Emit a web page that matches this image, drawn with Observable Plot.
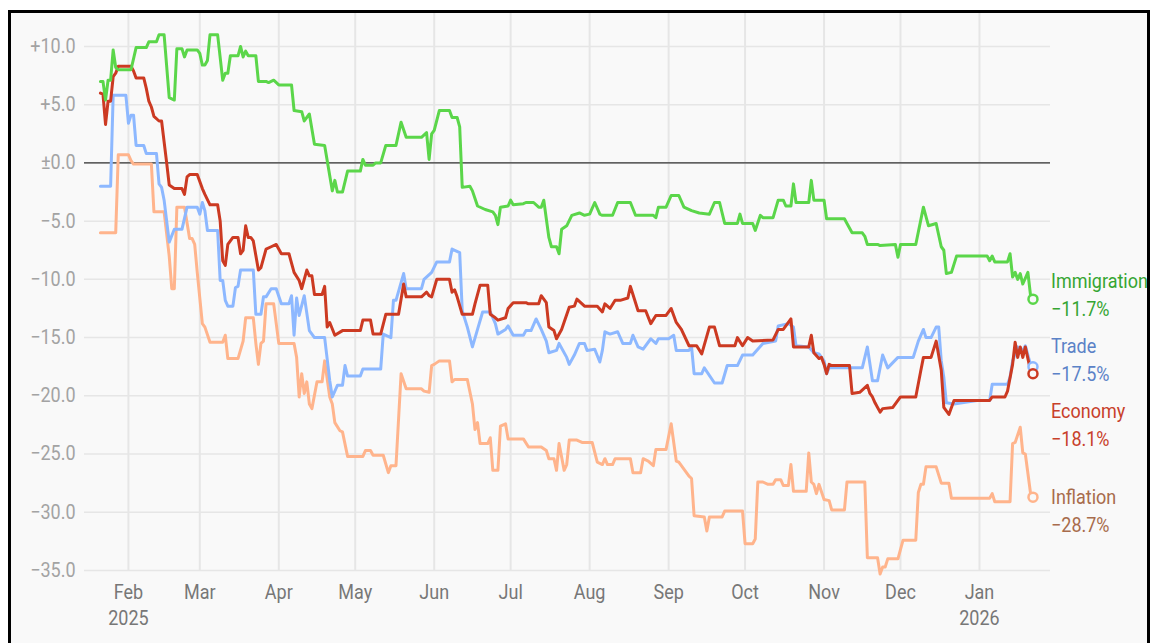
<!DOCTYPE html>
<html><head><meta charset="utf-8">
<script src="https://cdn.jsdelivr.net/npm/d3@7"></script>
<script src="https://cdn.jsdelivr.net/npm/@observablehq/plot@0.6"></script>
<style>
html,body{margin:0;padding:0;background:#fff;width:1152px;height:643px;overflow:hidden;}
#frame{position:absolute;left:8px;top:10px;width:1136px;height:640px;border:3px solid #000;background:#f9f9f9;overflow:hidden;}
#frame svg{display:block;}
</style></head><body><div id="frame"></div>
<script>
const seriesNames = ["Inflation", "Trade", "Economy", "Immigration"];
const lineColors = ["#ffb48c", "#8db8ff", "#cc3a22", "#5bd64a"];
const labelColors = ["#a86c4c", "#5b82c7", "#c8402a", "#35a532"];

const immigration = [["2025-01-21",7.0],["2025-01-22",7.0],["2025-01-23",5.4],["2025-01-24",7.1],["2025-01-25",7.1],["2025-01-26",9.7],["2025-01-27",8.2],["2025-01-28",8.0],["2025-02-02",8.0],["2025-02-04",9.9],["2025-02-08",9.9],["2025-02-09",10.4],["2025-02-12",10.4],["2025-02-13",11.0],["2025-02-15",11.0],["2025-02-17",5.6],["2025-02-19",5.4],["2025-02-20",9.8],["2025-02-22",9.8],["2025-02-23",9.1],["2025-02-24",9.7],["2025-02-28",9.7],["2025-03-01",9.4],["2025-03-02",8.4],["2025-03-03",8.4],["2025-03-04",8.8],["2025-03-05",11.0],["2025-03-08",11.0],["2025-03-10",7.1],["2025-03-11",7.7],["2025-03-12",7.7],["2025-03-13",9.2],["2025-03-16",9.2],["2025-03-17",10.0],["2025-03-18",9.1],["2025-03-19",9.6],["2025-03-20",9.2],["2025-03-23",9.2],["2025-03-24",7.0],["2025-03-27",7.0],["2025-03-28",6.9],["2025-03-30",7.1],["2025-04-01",6.7],["2025-04-06",6.7],["2025-04-07",4.5],["2025-04-10",4.4],["2025-04-11",3.6],["2025-04-13",4.2],["2025-04-15",1.6],["2025-04-19",1.5],["2025-04-22",-2.4],["2025-04-23",-1.5],["2025-04-24",-2.5],["2025-04-26",-2.5],["2025-04-28",-0.7],["2025-05-03",-0.7],["2025-05-04",0.3],["2025-05-05",-0.2],["2025-05-08",-0.2],["2025-05-09",0.0],["2025-05-11",0.0],["2025-05-13",1.5],["2025-05-17",1.5],["2025-05-19",3.5],["2025-05-21",2.2],["2025-05-27",2.2],["2025-05-29",2.6],["2025-05-30",0.3],["2025-05-31",2.5],["2025-06-01",2.8],["2025-06-03",4.5],["2025-06-07",4.5],["2025-06-08",3.9],["2025-06-10",3.9],["2025-06-11",3.1],["2025-06-12",-2.1],["2025-06-15",-2.0],["2025-06-16",-2.4],["2025-06-18",-3.7],["2025-06-21",-4.0],["2025-06-24",-4.2],["2025-06-25",-4.5],["2025-06-26",-5.3],["2025-06-27",-3.8],["2025-06-30",-3.7],["2025-07-01",-3.2],["2025-07-02",-3.6],["2025-07-06",-3.5],["2025-07-07",-3.4],["2025-07-10",-3.4],["2025-07-12",-3.8],["2025-07-13",-3.8],["2025-07-14",-3.2],["2025-07-16",-6.4],["2025-07-17",-7.2],["2025-07-19",-7.2],["2025-07-20",-7.8],["2025-07-21",-5.7],["2025-07-23",-5.4],["2025-07-25",-4.5],["2025-07-28",-4.3],["2025-07-30",-4.5],["2025-08-01",-4.4],["2025-08-03",-3.4],["2025-08-05",-4.4],["2025-08-06",-4.5],["2025-08-10",-4.5],["2025-08-12",-3.4],["2025-08-17",-3.4],["2025-08-19",-4.5],["2025-08-26",-4.5],["2025-08-27",-4.7],["2025-08-28",-3.8],["2025-08-31",-3.8],["2025-09-02",-2.8],["2025-09-05",-2.8],["2025-09-07",-3.8],["2025-09-10",-4.1],["2025-09-13",-4.3],["2025-09-17",-4.4],["2025-09-19",-3.4],["2025-09-21",-3.4],["2025-09-23",-5.2],["2025-09-28",-5.2],["2025-09-29",-4.4],["2025-09-30",-5.2],["2025-10-04",-5.2],["2025-10-05",-5.8],["2025-10-07",-4.5],["2025-10-08",-4.7],["2025-10-12",-4.7],["2025-10-14",-3.2],["2025-10-16",-3.2],["2025-10-17",-3.7],["2025-10-19",-3.7],["2025-10-20",-1.8],["2025-10-21",-3.4],["2025-10-26",-3.4],["2025-10-27",-1.5],["2025-10-28",-3.2],["2025-11-01",-3.2],["2025-11-02",-4.8],["2025-11-09",-4.8],["2025-11-10",-5.2],["2025-11-12",-6.0],["2025-11-16",-6.0],["2025-11-17",-6.3],["2025-11-18",-7.0],["2025-11-22",-7.0],["2025-11-23",-7.1],["2025-11-29",-7.0],["2025-11-30",-8.1],["2025-12-01",-7.0],["2025-12-07",-7.0],["2025-12-10",-3.8],["2025-12-12",-5.4],["2025-12-15",-5.2],["2025-12-17",-7.2],["2025-12-18",-7.5],["2025-12-19",-9.5],["2025-12-21",-9.4],["2025-12-23",-8.0],["2026-01-04",-8.0],["2026-01-05",-8.4],["2026-01-06",-8.0],["2026-01-07",-8.5],["2026-01-12",-8.5],["2026-01-13",-7.8],["2026-01-14",-9.8],["2026-01-15",-9.4],["2026-01-16",-10.0],["2026-01-17",-9.5],["2026-01-18",-10.4],["2026-01-20",-9.4],["2026-01-21",-11.3],["2026-01-22",-11.7]];

const economy = [["2025-01-21",6.0],["2025-01-22",5.9],["2025-01-23",3.3],["2025-01-24",5.3],["2025-01-25",5.3],["2025-01-26",7.4],["2025-01-27",7.7],["2025-01-28",8.3],["2025-02-02",8.3],["2025-02-03",7.9],["2025-02-04",7.3],["2025-02-07",7.3],["2025-02-08",6.4],["2025-02-09",5.3],["2025-02-10",4.8],["2025-02-11",4.0],["2025-02-13",3.6],["2025-02-14",3.6],["2025-02-16",0.0],["2025-02-17",-1.9],["2025-02-19",-2.2],["2025-02-22",-2.2],["2025-02-23",-2.7],["2025-02-24",-1.2],["2025-02-25",-1.0],["2025-02-28",-1.0],["2025-03-02",-2.2],["2025-03-03",-2.7],["2025-03-05",-3.6],["2025-03-08",-3.6],["2025-03-09",-5.0],["2025-03-10",-8.4],["2025-03-11",-8.8],["2025-03-12",-7.0],["2025-03-14",-6.4],["2025-03-16",-6.4],["2025-03-17",-7.8],["2025-03-18",-7.5],["2025-03-19",-5.4],["2025-03-20",-6.4],["2025-03-21",-6.4],["2025-03-22",-6.7],["2025-03-24",-9.2],["2025-03-25",-9.0],["2025-03-27",-7.4],["2025-03-29",-7.2],["2025-03-31",-7.0],["2025-04-02",-7.8],["2025-04-05",-7.8],["2025-04-07",-9.4],["2025-04-09",-10.1],["2025-04-10",-10.8],["2025-04-12",-9.2],["2025-04-13",-9.7],["2025-04-14",-9.7],["2025-04-15",-11.3],["2025-04-18",-11.3],["2025-04-19",-10.6],["2025-04-20",-14.1],["2025-04-21",-13.7],["2025-04-23",-14.8],["2025-04-26",-14.4],["2025-05-03",-14.4],["2025-05-04",-13.5],["2025-05-07",-13.5],["2025-05-08",-14.7],["2025-05-11",-14.7],["2025-05-13",-13.0],["2025-05-18",-13.0],["2025-05-20",-10.4],["2025-05-21",-11.5],["2025-05-27",-11.5],["2025-05-29",-11.1],["2025-05-30",-11.4],["2025-05-31",-11.5],["2025-06-02",-10.0],["2025-06-07",-10.0],["2025-06-08",-11.1],["2025-06-09",-10.9],["2025-06-10",-11.5],["2025-06-12",-13.0],["2025-06-16",-13.0],["2025-06-17",-12.1],["2025-06-19",-10.5],["2025-06-22",-10.5],["2025-06-23",-13.0],["2025-06-25",-13.3],["2025-06-26",-13.5],["2025-06-29",-13.3],["2025-06-30",-12.5],["2025-07-02",-12.0],["2025-07-07",-12.0],["2025-07-08",-12.1],["2025-07-12",-12.1],["2025-07-13",-11.4],["2025-07-15",-12.0],["2025-07-16",-14.1],["2025-07-18",-14.4],["2025-07-19",-15.1],["2025-07-21",-14.3],["2025-07-24",-12.4],["2025-07-26",-12.3],["2025-07-27",-11.7],["2025-07-30",-12.3],["2025-08-04",-12.3],["2025-08-06",-12.8],["2025-08-07",-12.1],["2025-08-09",-12.5],["2025-08-11",-11.8],["2025-08-13",-11.8],["2025-08-16",-11.6],["2025-08-17",-10.6],["2025-08-18",-11.3],["2025-08-20",-12.7],["2025-08-23",-12.7],["2025-08-25",-13.8],["2025-08-27",-13.1],["2025-08-31",-13.1],["2025-09-02",-12.5],["2025-09-03",-13.1],["2025-09-04",-13.7],["2025-09-06",-14.3],["2025-09-09",-15.7],["2025-09-12",-15.7],["2025-09-14",-16.4],["2025-09-17",-14.1],["2025-09-19",-14.1],["2025-09-21",-15.7],["2025-09-27",-15.7],["2025-09-28",-15.0],["2025-09-30",-15.7],["2025-10-02",-15.0],["2025-10-04",-15.3],["2025-10-12",-15.2],["2025-10-14",-14.3],["2025-10-16",-14.3],["2025-10-19",-13.4],["2025-10-20",-15.8],["2025-10-26",-15.8],["2025-10-27",-14.8],["2025-10-28",-16.3],["2025-10-30",-16.8],["2025-10-31",-16.7],["2025-11-01",-17.3],["2025-11-02",-18.1],["2025-11-03",-17.3],["2025-11-04",-17.4],["2025-11-11",-17.4],["2025-11-12",-19.8],["2025-11-15",-19.7],["2025-11-18",-19.1],["2025-11-19",-19.8],["2025-11-20",-20.1],["2025-11-21",-20.6],["2025-11-23",-21.4],["2025-11-24",-21.1],["2025-11-28",-21.0],["2025-12-01",-20.1],["2025-12-07",-20.1],["2025-12-09",-17.8],["2025-12-10",-16.7],["2025-12-13",-16.7],["2025-12-15",-15.3],["2025-12-17",-17.8],["2025-12-18",-21.0],["2025-12-20",-21.6],["2025-12-22",-20.4],["2026-01-05",-20.4],["2026-01-06",-20.1],["2026-01-11",-20.1],["2026-01-12",-19.6],["2026-01-14",-17.3],["2026-01-15",-15.4],["2026-01-16",-16.7],["2026-01-17",-15.8],["2026-01-18",-16.7],["2026-01-19",-15.8],["2026-01-21",-17.8],["2026-01-22",-18.1]];

const trade = [["2025-01-21",-2.0],["2025-01-25",-2.0],["2025-01-26",5.8],["2025-01-31",5.8],["2025-02-01",3.4],["2025-02-02",4.1],["2025-02-03",4.1],["2025-02-04",1.5],["2025-02-07",1.5],["2025-02-08",0.8],["2025-02-12",0.8],["2025-02-13",-1.8],["2025-02-14",-2.1],["2025-02-15",-3.2],["2025-02-17",-6.8],["2025-02-19",-5.7],["2025-02-22",-5.7],["2025-02-24",-3.8],["2025-02-28",-3.8],["2025-03-01",-4.4],["2025-03-02",-3.4],["2025-03-03",-4.1],["2025-03-04",-5.8],["2025-03-08",-5.8],["2025-03-09",-10.1],["2025-03-10",-10.1],["2025-03-11",-11.8],["2025-03-12",-12.3],["2025-03-14",-12.3],["2025-03-15",-10.7],["2025-03-16",-10.6],["2025-03-17",-9.2],["2025-03-22",-9.2],["2025-03-23",-13.0],["2025-03-25",-13.0],["2025-03-26",-11.5],["2025-03-27",-11.5],["2025-03-29",-10.8],["2025-03-31",-10.8],["2025-04-02",-12.1],["2025-04-05",-12.1],["2025-04-06",-11.4],["2025-04-07",-14.8],["2025-04-08",-11.6],["2025-04-09",-13.1],["2025-04-11",-11.4],["2025-04-13",-14.4],["2025-04-15",-15.0],["2025-04-19",-15.0],["2025-04-21",-18.7],["2025-04-22",-20.1],["2025-04-24",-19.1],["2025-04-26",-19.1],["2025-04-27",-17.4],["2025-04-28",-18.3],["2025-05-03",-18.3],["2025-05-04",-17.7],["2025-05-11",-17.7],["2025-05-12",-14.7],["2025-05-15",-15.0],["2025-05-16",-11.8],["2025-05-17",-11.8],["2025-05-20",-9.5],["2025-05-21",-10.8],["2025-05-27",-10.8],["2025-05-28",-10.0],["2025-05-31",-9.4],["2025-06-02",-8.5],["2025-06-07",-8.5],["2025-06-08",-7.4],["2025-06-11",-7.7],["2025-06-12",-12.7],["2025-06-14",-14.1],["2025-06-16",-15.8],["2025-06-18",-14.3],["2025-06-20",-12.8],["2025-06-23",-12.8],["2025-06-25",-13.8],["2025-06-26",-14.7],["2025-06-29",-14.3],["2025-06-30",-14.0],["2025-07-02",-14.8],["2025-07-06",-14.8],["2025-07-07",-14.4],["2025-07-09",-14.4],["2025-07-11",-13.4],["2025-07-13",-14.3],["2025-07-15",-15.3],["2025-07-16",-16.3],["2025-07-19",-16.1],["2025-07-20",-15.5],["2025-07-23",-16.7],["2025-07-24",-17.3],["2025-07-26",-16.5],["2025-07-28",-15.5],["2025-07-30",-15.5],["2025-07-31",-16.1],["2025-08-03",-16.0],["2025-08-05",-17.1],["2025-08-06",-16.1],["2025-08-07",-14.5],["2025-08-09",-14.7],["2025-08-12",-14.5],["2025-08-14",-15.5],["2025-08-17",-15.5],["2025-08-18",-14.8],["2025-08-20",-15.8],["2025-08-22",-16.0],["2025-08-25",-15.1],["2025-08-27",-15.5],["2025-08-28",-15.1],["2025-09-01",-15.1],["2025-09-03",-14.8],["2025-09-04",-16.1],["2025-09-09",-16.1],["2025-09-10",-15.8],["2025-09-11",-18.1],["2025-09-14",-18.1],["2025-09-15",-17.6],["2025-09-19",-18.9],["2025-09-22",-18.9],["2025-09-24",-17.4],["2025-09-28",-17.4],["2025-09-30",-16.5],["2025-10-04",-16.5],["2025-10-06",-16.0],["2025-10-08",-15.5],["2025-10-13",-15.3],["2025-10-14",-14.0],["2025-10-18",-13.8],["2025-10-20",-14.1],["2025-10-21",-15.7],["2025-10-26",-15.8],["2025-10-28",-16.3],["2025-10-30",-16.4],["2025-11-01",-17.0],["2025-11-02",-18.1],["2025-11-03",-17.6],["2025-11-16",-17.6],["2025-11-18",-15.8],["2025-11-20",-18.7],["2025-11-22",-18.7],["2025-11-24",-16.5],["2025-11-26",-17.6],["2025-11-30",-16.7],["2025-12-06",-16.7],["2025-12-08",-15.3],["2025-12-10",-14.3],["2025-12-11",-15.0],["2025-12-13",-15.0],["2025-12-15",-14.1],["2025-12-16",-14.1],["2025-12-17",-17.0],["2025-12-18",-18.4],["2025-12-19",-20.6],["2025-12-22",-20.7],["2025-12-31",-20.4],["2026-01-05",-20.4],["2026-01-06",-19.0],["2026-01-12",-19.0],["2026-01-13",-18.4],["2026-01-14",-17.0],["2026-01-16",-15.8],["2026-01-18",-16.1],["2026-01-19",-15.7],["2026-01-21",-17.3],["2026-01-22",-17.5]];

const inflation = [["2025-01-21",-6.0],["2025-01-27",-6.0],["2025-01-28",0.7],["2025-02-01",0.7],["2025-02-02",0.2],["2025-02-03",-0.1],["2025-02-10",-0.1],["2025-02-11",-4.2],["2025-02-15",-4.2],["2025-02-17",-8.0],["2025-02-18",-10.8],["2025-02-19",-10.8],["2025-02-20",-3.8],["2025-02-23",-3.8],["2025-02-25",-6.5],["2025-02-26",-6.5],["2025-02-27",-7.0],["2025-02-28",-9.4],["2025-03-02",-13.8],["2025-03-03",-14.1],["2025-03-05",-15.4],["2025-03-10",-15.4],["2025-03-11",-14.8],["2025-03-12",-16.8],["2025-03-16",-16.8],["2025-03-18",-15.3],["2025-03-19",-13.3],["2025-03-22",-13.3],["2025-03-23",-15.5],["2025-03-24",-17.3],["2025-03-25",-15.5],["2025-03-26",-15.3],["2025-03-27",-12.1],["2025-03-30",-12.1],["2025-04-01",-15.5],["2025-04-07",-15.5],["2025-04-08",-16.7],["2025-04-09",-20.1],["2025-04-10",-18.1],["2025-04-11",-19.8],["2025-04-12",-18.8],["2025-04-13",-20.7],["2025-04-14",-21.1],["2025-04-16",-18.8],["2025-04-18",-18.8],["2025-04-19",-17.0],["2025-04-21",-20.1],["2025-04-22",-20.7],["2025-04-23",-22.3],["2025-04-25",-23.0],["2025-04-26",-23.1],["2025-04-28",-25.2],["2025-05-04",-25.2],["2025-05-05",-24.7],["2025-05-07",-24.7],["2025-05-08",-25.1],["2025-05-12",-25.1],["2025-05-14",-26.6],["2025-05-15",-26.0],["2025-05-17",-26.0],["2025-05-19",-18.1],["2025-05-21",-19.4],["2025-05-27",-19.4],["2025-05-28",-19.6],["2025-05-30",-19.7],["2025-05-31",-17.4],["2025-06-01",-17.3],["2025-06-03",-17.0],["2025-06-07",-17.0],["2025-06-08",-18.8],["2025-06-09",-18.6],["2025-06-14",-18.6],["2025-06-16",-20.7],["2025-06-17",-22.9],["2025-06-18",-22.3],["2025-06-19",-24.1],["2025-06-22",-24.1],["2025-06-23",-23.6],["2025-06-24",-26.4],["2025-06-26",-26.4],["2025-06-27",-22.6],["2025-06-29",-22.4],["2025-06-30",-23.7],["2025-07-06",-23.7],["2025-07-08",-24.4],["2025-07-13",-24.4],["2025-07-15",-24.7],["2025-07-16",-25.4],["2025-07-18",-25.4],["2025-07-19",-26.4],["2025-07-20",-24.1],["2025-07-22",-26.4],["2025-07-23",-25.9],["2025-07-24",-23.8],["2025-07-27",-23.8],["2025-07-29",-24.0],["2025-08-02",-24.0],["2025-08-04",-25.7],["2025-08-06",-25.9],["2025-08-07",-25.4],["2025-08-08",-25.9],["2025-08-10",-25.9],["2025-08-11",-25.4],["2025-08-17",-25.4],["2025-08-18",-26.6],["2025-08-21",-26.6],["2025-08-22",-25.4],["2025-08-24",-25.6],["2025-08-26",-26.0],["2025-08-27",-24.6],["2025-08-31",-24.6],["2025-09-02",-22.4],["2025-09-04",-25.6],["2025-09-05",-25.7],["2025-09-07",-26.3],["2025-09-09",-26.9],["2025-09-10",-27.1],["2025-09-11",-30.3],["2025-09-15",-30.4],["2025-09-16",-31.6],["2025-09-17",-30.4],["2025-09-22",-30.4],["2025-09-23",-29.9],["2025-09-30",-29.9],["2025-10-01",-32.7],["2025-10-04",-32.7],["2025-10-05",-32.3],["2025-10-06",-27.4],["2025-10-08",-27.4],["2025-10-10",-27.6],["2025-10-12",-27.6],["2025-10-13",-27.2],["2025-10-15",-27.2],["2025-10-16",-27.7],["2025-10-18",-27.7],["2025-10-19",-25.9],["2025-10-20",-28.2],["2025-10-25",-28.2],["2025-10-26",-24.9],["2025-10-27",-27.4],["2025-10-28",-27.6],["2025-10-29",-28.4],["2025-10-30",-27.6],["2025-11-01",-28.9],["2025-11-03",-29.0],["2025-11-04",-29.8],["2025-11-09",-29.8],["2025-11-10",-27.4],["2025-11-17",-27.4],["2025-11-18",-33.9],["2025-11-22",-33.9],["2025-11-23",-35.3],["2025-11-24",-34.7],["2025-11-25",-34.7],["2025-11-26",-34.0],["2025-11-30",-34.0],["2025-12-02",-32.4],["2025-12-07",-32.4],["2025-12-08",-28.3],["2025-12-09",-27.6],["2025-12-10",-27.6],["2025-12-11",-26.1],["2025-12-15",-26.1],["2025-12-17",-27.5],["2025-12-20",-27.5],["2025-12-21",-28.8],["2026-01-05",-28.8],["2026-01-06",-28.4],["2026-01-07",-29.1],["2026-01-13",-29.1],["2026-01-14",-24.1],["2026-01-15",-24.0],["2026-01-17",-22.7],["2026-01-18",-24.9],["2026-01-19",-25.0],["2026-01-21",-28.3],["2026-01-22",-28.7]];

const yTicks = [-35, -30, -25, -20, -15, -10, -5, 0, 5, 10];
const monthTicks = ["2025-02-01","2025-03-01","2025-04-01","2025-05-01","2025-06-01","2025-07-01","2025-08-01","2025-09-01","2025-10-01","2025-11-01","2025-12-01","2026-01-01"];
const monthLabels = ["Feb\n2025","Mar","Apr","May","Jun","Jul","Aug","Sep","Oct","Nov","Dec","Jan\n2026"];

const seriesData = [inflation, trade, economy, immigration];
const FONT = 'Roboto, "Liberation Sans", sans-serif';
const FS = 20;          // font size
const SQUEEZE = 0.9;    // horizontal condensing of all texts (condensed look)
const BG = "#f9f9f9";

const W = 1136, H = 630;
const mL = 73, mR = 97, mT = 0, mB = 73;
const yDomain = [-35, 12.83];
const xDomain = [new Date("2025-01-14T18:00:00Z"), new Date("2026-01-28T21:00:00Z")];

const parse = s => new Date(s + "T00:00:00Z");
const tickDates = monthTicks.map(parse);
const labelByTime = new Map(tickDates.map((d, i) => [+d, monthLabels[i]]));

const fmtY = v => v > 0 ? "+" + v.toFixed(1) : v === 0 ? "\u00b10.0" : "\u2212" + Math.abs(v).toFixed(1);
const fmtPct = v => (v > 0 ? "+" : v < 0 ? "\u2212" : "\u00b1") + Math.abs(v).toFixed(1) + "%";

const rows = seriesData.map(arr => arr.map(([d, v]) => ({date: parse(d), value: v})));
const ends = rows.map((r, i) => ({series: seriesNames[i], ...r[r.length - 1]}));

// dodge end labels vertically (pixel space); the name line sits at the dodged position
const ySc = d3.scaleLinear().domain([yDomain[1], yDomain[0]]).range([mT, H - mB]);
const gap = 65;
const order = d3.range(ends.length).sort((a, b) => ySc(ends[a].value) - ySc(ends[b].value));
let blocks = order.map(k => ({idx: [k], sum: ySc(ends[k].value), n: 1}));
const start = b => b.sum / b.n - (b.n - 1) * gap / 2;
let merged = true;
while (merged) {
  merged = false;
  for (let i = 0; i < blocks.length - 1; i++) {
    const a = blocks[i], b = blocks[i + 1];
    if (start(a) + a.n * gap > start(b)) {
      blocks.splice(i, 2, {idx: a.idx.concat(b.idx), sum: a.sum + b.sum, n: a.n + b.n});
      merged = true; break;
    }
  }
}
blocks.forEach(b => { const s = start(b); b.idx.forEach((k, j) => { ends[k].labelY = ySc.invert(s + j * gap); }); });

const marks = [
  Plot.gridY(yTicks, {stroke: "#e6e6e6", strokeOpacity: 1, strokeWidth: 1.5}),
  Plot.gridX(tickDates, {stroke: "#e6e6e6", strokeOpacity: 1, strokeWidth: 2}),
  Plot.ruleY([0], {stroke: "#333", strokeWidth: 1.2}),
  Plot.axisY(yTicks, {tickSize: 0, tickPadding: 9, tickFormat: fmtY, fill: "#a3a3a3", fontSize: FS, label: null}),
  Plot.axisX(tickDates, {tickSize: 0, tickPadding: 9.5, tickFormat: d => labelByTime.get(+d), fill: "#777", fontSize: FS, lineHeight: 1.31, label: null})
];
rows.forEach((r, i) => {
  marks.push(Plot.line(r, {x: "date", y: "value", stroke: lineColors[i], strokeWidth: 3, strokeLinejoin: "round", strokeLinecap: "round"}));
});
ends.forEach((e, i) => {
  marks.push(Plot.dot([e], {x: "date", y: "value", r: 4.5, stroke: lineColors[i], strokeWidth: 2.5, fill: BG}));
  marks.push(Plot.text([e], {x: "date", y: "labelY", text: d => d.series, dx: 18, textAnchor: "start", fill: labelColors[i], fontSize: FS}));
  marks.push(Plot.text([e], {x: "date", y: "labelY", text: d => fmtPct(d.value), dx: 18, dy: 28.5, textAnchor: "start", fill: labelColors[i], fontSize: FS}));
});

const chart = Plot.plot({
  width: W, height: H,
  marginLeft: mL, marginRight: mR, marginTop: mT, marginBottom: mB,
  style: {background: "transparent", fontFamily: FONT, fontSize: FS + "px", overflow: "visible"},
  x: {type: "utc", domain: xDomain},
  y: {domain: yDomain},
  marks
});

// condense every text horizontally around its own anchor point
chart.querySelectorAll("text").forEach(t => {
  const ax = parseFloat(t.getAttribute("x") || "0") || 0;
  const tr = t.getAttribute("transform") || "";
  t.setAttribute("transform", `${tr} translate(${ax},0) scale(${SQUEEZE},1) translate(${-ax},0)`.trim());
});
document.getElementById("frame").appendChild(chart);
</script>
</body></html>
